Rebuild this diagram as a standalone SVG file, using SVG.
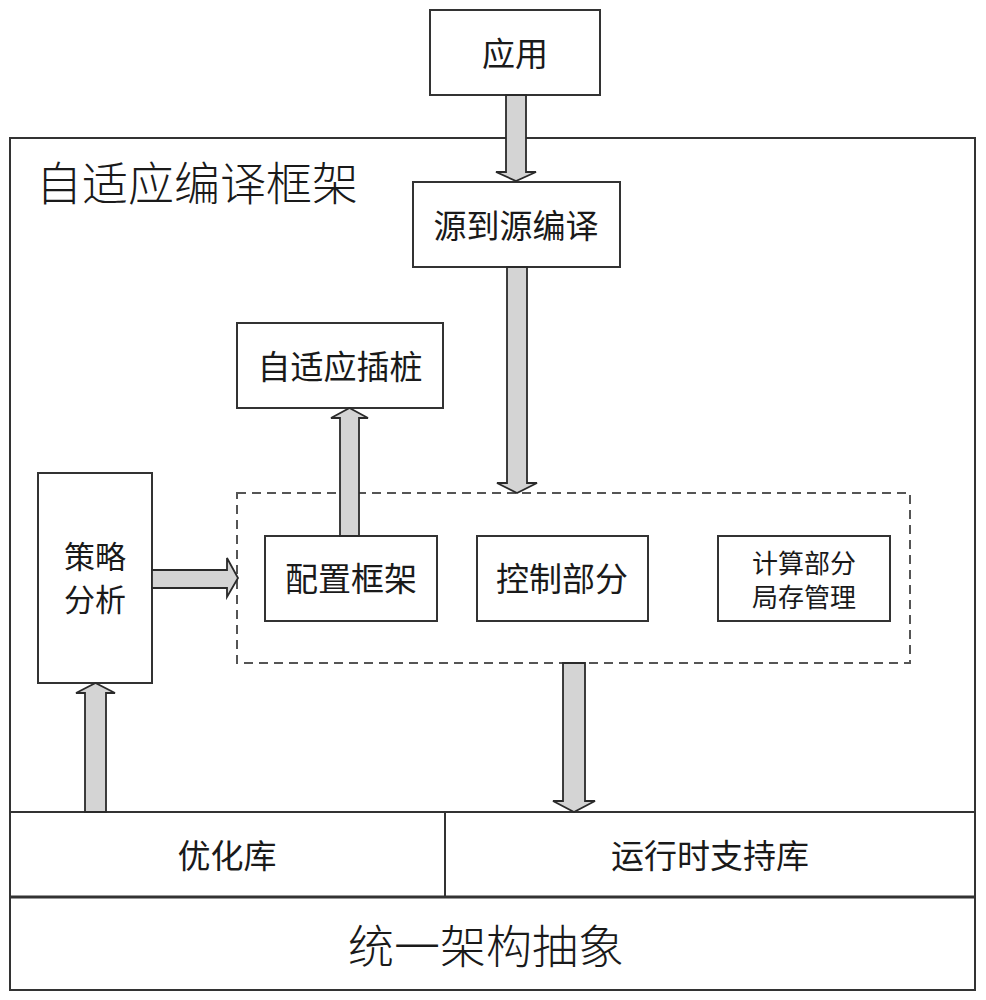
<svg xmlns="http://www.w3.org/2000/svg" width="986" height="1000" viewBox="0 0 986 1000">
<style>
.box{fill:#fff;stroke:#333;stroke-width:2}
.dash{fill:none;stroke:#555;stroke-width:2;stroke-dasharray:9,6}
.arr{fill:#d4d4d4;stroke:#2a2a2a;stroke-width:1.8;stroke-linejoin:miter}
.t{font-family:"Noto Sans CJK SC","Microsoft YaHei",sans-serif;fill:#1a1a1a;text-anchor:middle;dominant-baseline:central}
.big{font-family:"Noto Sans CJK SC",serif;fill:#1a1a1a;font-weight:300}
</style>
<rect width="986" height="1000" fill="#fff"/>
<g id="frame">
<rect class="box" x="10" y="138" width="965" height="674"/>
<text class="big" x="36" y="200" font-size="46">自适应编译框架</text>
</g>
<g id="app"><rect class="box" x="430" y="10" width="170" height="85"/><text class="t" x="515" y="52" font-size="33">应用</text></g>
<g id="s2s"><rect class="box" x="413" y="182" width="207" height="85"/><text class="t" x="516" y="224" font-size="33">源到源编译</text></g>
<g id="instr"><rect class="box" x="237" y="323" width="206" height="85"/><text class="t" x="340" y="365" font-size="33">自适应插桩</text></g>
<g id="strategy"><rect class="box" x="38" y="473" width="114" height="210"/><text class="t" x="95" y="554" font-size="31">策略</text><text class="t" x="95" y="597" font-size="31">分析</text></g>
<g id="group"><rect class="dash" x="237" y="493" width="673" height="170"/></g>
<g id="config"><rect class="box" x="265" y="536" width="172" height="85"/><text class="t" x="351" y="577" font-size="33">配置框架</text></g>
<g id="control"><rect class="box" x="477" y="536" width="171" height="85"/><text class="t" x="562" y="577" font-size="33">控制部分</text></g>
<g id="compute"><rect class="box" x="718" y="536" width="172" height="85"/><text class="t" x="804" y="561" font-size="26">计算部分</text><text class="t" x="804" y="595" font-size="26">局存管理</text></g>
<g id="optlib"><rect class="box" x="10" y="812" width="435" height="85"/><text class="t" x="227" y="854" font-size="33">优化库</text></g>
<g id="rtlib"><rect class="box" x="445" y="812" width="530" height="85"/><text class="t" x="710" y="854" font-size="33">运行时支持库</text></g>
<g id="arch"><rect class="box" x="10" y="897" width="965" height="93"/><line x1="10" y1="897" x2="975" y2="897" stroke="#333" stroke-width="3"/><text class="big" x="486" y="963" font-size="46" text-anchor="middle">统一架构抽象</text></g>
<g id="connectors">
<polygon class="arr" points="506,95 526,95 526,172 536,172 516,181 496,172 506,172"/>
<polygon class="arr" points="507,267 527,267 527,483 537,483 517,493 497,483 507,483"/>
<polygon class="arr" points="340,536 359,536 359,418 368,418 349.5,408 331,418 340,418"/>
<polygon class="arr" points="152,570 227,570 227,558 238,578 227,597 227,588 152,588"/>
<polygon class="arr" points="85,812 106,812 106,693 115,693 95.5,683 76,693 85,693"/>
<polygon class="arr" points="563,663 585,663 585,801 595,801 574,812 553,801 563,801"/>
</g>
</svg>
